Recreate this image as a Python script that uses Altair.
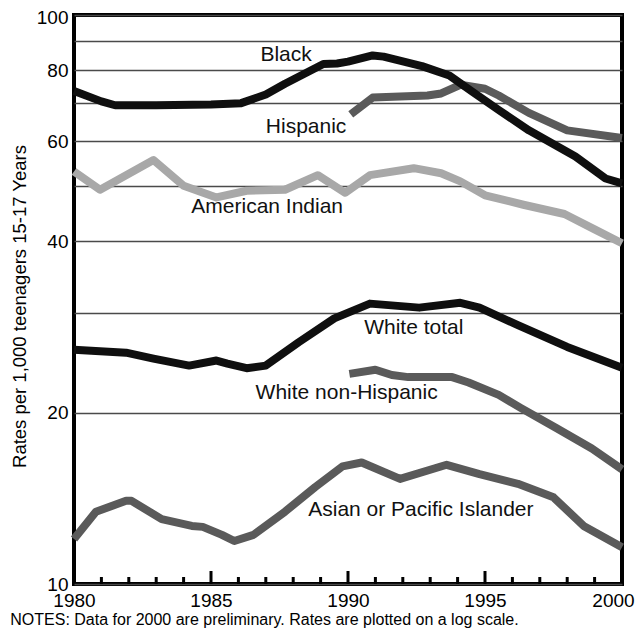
import altair as alt
import pandas as pd

FONT = "Liberation Sans"

# ---- data ----
black_years = [1980, 1981, 1981.5, 1983, 1985, 1986.1, 1987, 1987.7, 1989.1, 1989.6, 1990, 1990.9, 1991.3,
               1992.7, 1993.7, 1994.5, 1995.5, 1996.6, 1998.3, 1999.4, 2000]
black_vals = [73.5, 70.5, 69.4, 69.4, 69.6, 70.0, 72.5, 75.7, 82.0, 82.2, 82.8, 84.9, 84.5,
              81.3, 78.3, 73.5, 68.1, 62.7, 56.4, 51.6, 50.6]

hisp_years = [1990.1, 1990.9, 1992.9, 1993.4, 1994.1, 1995.0, 1995.5, 1996.6, 1998.0, 2000]
hisp_vals = [66.9, 71.6, 72.2, 72.8, 75.4, 74.2, 72.2, 67.3, 62.7, 60.8]

amind_years = [1980, 1980.95, 1982.9, 1984.0, 1985.2, 1986.3, 1987.7, 1988.9, 1989.9, 1990.8,
               1992.4, 1993.4, 1994.1, 1995.0, 1996.4, 1997.9, 1999.0, 2000]
amind_vals = [53.1, 49.3, 55.6, 50.1, 47.8, 49.1, 49.3, 52.3, 48.7, 52.3,
              53.8, 52.7, 51.0, 48.2, 46.4, 44.7, 42.0, 39.7]

wtot_years = [1980, 1981.9, 1982.9, 1984.2, 1985.2, 1985.6, 1986.3, 1987.0, 1988.2, 1989.5,
              1990.8, 1992.6, 1994.1, 1994.8, 1996.2, 1998.0, 2000]
wtot_vals = [25.8, 25.5, 24.9, 24.2, 24.7, 24.4, 23.95, 24.2, 26.6, 29.3,
             31.1, 30.6, 31.2, 30.6, 28.5, 26.1, 24.0]

wnh_years = [1990.05, 1991.0, 1991.6, 1992.2, 1993.8, 1994.4, 1995.5, 1996.3, 1997.6, 1998.9, 2000]
wnh_vals = [23.4, 23.8, 23.3, 23.1, 23.1, 22.6, 21.5, 20.4, 18.8, 17.3, 15.9]

asian_years = [1980, 1980.8, 1981.9, 1982.1, 1983.2, 1984.3, 1984.7, 1985.4, 1985.85, 1986.55,
               1987.7, 1988.8, 1989.8, 1990.5, 1991.9, 1993.6, 1994.8, 1996.2, 1997.5, 1998.6, 2000]
asian_vals = [12.0, 13.4, 14.0, 14.0, 13.0, 12.65, 12.6, 12.2, 11.9, 12.2,
              13.4, 14.8, 16.1, 16.35, 15.3, 16.2, 15.6, 15.0, 14.2, 12.65, 11.6]

label_texts = ["Black", "Hispanic", "American Indian", "White total", "White non-Hispanic",
               "Asian or Pacific Islander"]
label_years = [1987.74, 1988.47, 1987.05, 1992.4, 1989.95, 1992.66]
label_vals = [85.2, 63.6, 45.9, 28.2, 21.7, 13.47]

x_label_years = [1980, 1985, 1990, 1995, 2000]
minor_tick_years = [y for y in range(1981, 2000) if y % 5 != 0]
major_tick_years = [1985, 1990, 1995]
y_grid_values = [10, 20, 30, 40, 50, 60, 70, 80, 90, 100]
y_label_values = [10, 20, 40, 60, 80, 100]

y_title = "Rates per 1,000 teenagers 15-17 Years"
note = "NOTES: Data for 2000 are preliminary. Rates are plotted on a log scale."

# ---- build tables ----
def frame(name, years, vals):
    return pd.DataFrame({"series": name, "year": years, "rate": vals})

gray_df = pd.concat([
    frame("Hispanic", hisp_years, hisp_vals),
    frame("American Indian", amind_years, amind_vals),
    frame("White non-Hispanic", wnh_years, wnh_vals),
    frame("Asian or Pacific Islander", asian_years, asian_vals),
])
dark_df = pd.concat([
    frame("Black", black_years, black_vals),
    frame("White total", wtot_years, wtot_vals),
])
labels_df = pd.DataFrame({"label": label_texts, "year": label_years, "rate": label_vals})
minor_df = pd.DataFrame({"year": minor_tick_years})
major_df = pd.DataFrame({"year": major_tick_years})

W, H = 548, 569
xs = alt.Scale(domain=[1980, 2000], nice=False, zero=False)
ys = alt.Scale(type="log", domain=[10, 100], nice=False)

hide = "||".join(f"datum.value=={v}" for v in y_grid_values if v not in y_label_values)
x_axis = alt.Axis(values=x_label_years, format="d", ticks=False, domain=False, grid=False,
                  labelFlush=False, labelFontSize=19, labelPadding=7, labelColor="black",
                  labelOffset={"condition": {"test": "datum.value == 2000", "value": -9}, "value": 0},
                  labelFont=FONT, title=None)
y_axis = alt.Axis(values=y_grid_values, labelExpr=f"({hide}) ? '' : datum.label", ticks=False,
                  domain=False, grid=True, gridColor="#4a4a4a", gridWidth=1.6,
                  labelFontSize=19, labelPadding=6, labelColor="black", labelFont=FONT,
                  labelOffset={"condition": {"test": "datum.value == 100", "value": 2}, "value": 0},
                  title=y_title, titleFontSize=18.5, titleFontWeight="normal", titleFont=FONT,
                  titleColor="black", titlePadding=7, titleY=291)

X = alt.X("year:Q", scale=xs, axis=x_axis)
Y = alt.Y("rate:Q", scale=ys, axis=y_axis)

gray_colors = ["#5a5a5a", "#a8a8a8", "#5a5a5a", "#5a5a5a"]
gray_lines = alt.Chart(gray_df).mark_line(strokeWidth=8, strokeJoin="round", strokeCap="butt").encode(
    x=X, y=Y,
    color=alt.Color("series:N", scale=alt.Scale(domain=["Hispanic", "American Indian", "White non-Hispanic",
                                                        "Asian or Pacific Islander"], range=gray_colors),
                    legend=None),
    detail="series:N",
)
dark_lines = alt.Chart(dark_df).mark_line(strokeWidth=8, strokeJoin="round", strokeCap="butt",
                                          color="#0f0f0f").encode(
    x=X, y=Y, detail="series:N",
)
texts = alt.Chart(labels_df).mark_text(fontSize=21, font=FONT, color="#111111").encode(
    x=X, y=Y, text="label:N",
)
minor_ticks = alt.Chart(minor_df).mark_rule(strokeWidth=3, color="black").encode(
    x=X, y=alt.value(H), y2=alt.value(H - 7),
)
major_ticks = alt.Chart(major_df).mark_rule(strokeWidth=3, color="black").encode(
    x=X, y=alt.value(H), y2=alt.value(H - 13),
)

chart = alt.layer(gray_lines, dark_lines, minor_ticks, major_ticks, texts).properties(
    width=W, height=H,
    autosize=alt.AutoSizeParams(type="none"),
    padding={"left": 66, "top": 7, "right": 14, "bottom": 46},
    title=alt.TitleParams(note, orient="bottom", anchor="start", frame="bounds", fontSize=16,
                          fontWeight="normal", font=FONT, color="black", offset=2),
).configure_view(stroke="black", strokeWidth=4)

chart.save("out.html", embed_options={"renderer": "svg", "actions": False})
